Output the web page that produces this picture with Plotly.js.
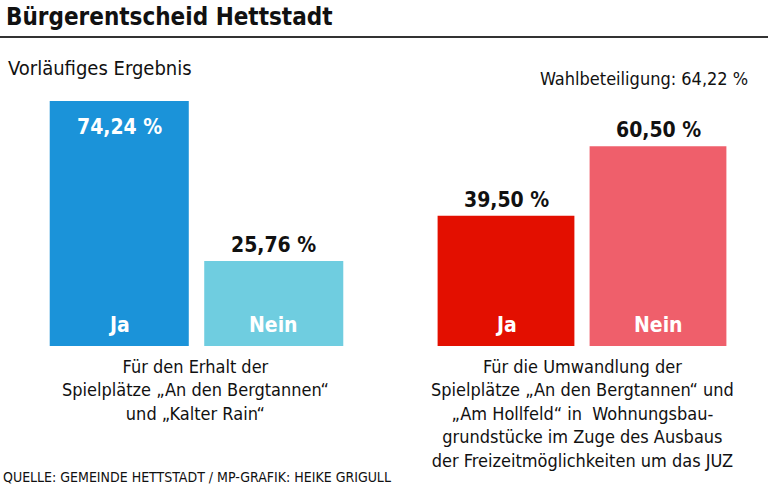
<!DOCTYPE html>
<html>
<head>
<meta charset="utf-8">
<script src="https://cdn.plot.ly/plotly-3.0.1.min.js"></script>
<style>html,body{margin:0;padding:0;background:#fff;}#chart{width:768px;height:486px;}</style>
</head>
<body>
<div id="chart"></div>
<script>
const categories = ["Ja", "Nein"];
const valuesErhalt = [74.24, 25.76];
const valuesUmwandlung = [39.50, 60.50];
const colorsErhalt = ["#1b93d9", "#6fcde0"];
const colorsUmwandlung = ["#e30f00", "#ef5f6b"];
const captionErhalt = "Für den Erhalt der<br>Spielplätze „An den Bergtannen“<br>und „Kalter Rain“";
const captionUmwandlung = "Für die Umwandlung der<br>Spielplätze „An den Bergtannen“ und<br>„Am Hollfeld“ in  Wohnungsbau-<br>grundstücke im Zuge des Ausbaus<br>der Freizeitmöglichkeiten um das JUZ";
const titleText = "Bürgerentscheid Hettstadt";
const subtitleText = "Vorläufiges Ergebnis";
const turnoutText = "Wahlbeteiligung: 64,22 %";
const sourceText = "QUELLE: GEMEINDE HETTSTADT / MP-GRAFIK: HEIKE GRIGULL";

const FONT = "'DejaVu Sans Condensed', 'Liberation Sans Narrow', sans-serif";
const fmt = v => v.toFixed(2).replace('.', ',') + ' %';

const traces = [
  {type:'bar', x:categories, y:valuesErhalt, xaxis:'x', yaxis:'y',
   marker:{color:colorsErhalt}, hoverinfo:'none'},
  {type:'bar', x:categories, y:valuesUmwandlung, xaxis:'x2', yaxis:'y',
   marker:{color:colorsUmwandlung}, hoverinfo:'none'}
];

const annotations = [];
function addGroup(vals, xref) {
  vals.forEach((v, i) => {
    const inside = v > 70;
    annotations.push({xref:xref, yref:'y', x:categories[i], y:v,
      text:'<b>'+fmt(v)+'</b>', showarrow:false,
      yanchor: inside ? 'top' : 'bottom', yshift: inside ? -12 : 2,
      font:{family:FONT, size:21, color: inside ? '#ffffff' : '#111111'}});
    annotations.push({xref:xref, yref:'y', x:categories[i], y:0,
      text:'<b>'+categories[i]+'</b>', showarrow:false,
      yanchor:'bottom', yshift:7,
      font:{family:FONT, size:21, color:'#ffffff'}});
  });
}
addGroup(valuesErhalt, 'x');
addGroup(valuesUmwandlung, 'x2');

annotations.push(
  {xref:'paper', yref:'paper', x:0.2547, y:-0.03, yanchor:'top', xanchor:'center',
   text:captionErhalt, showarrow:false, align:'center',
   font:{family:FONT, size:18, color:'#111'}},
  {xref:'paper', yref:'paper', x:0.758, y:-0.03, yanchor:'top', xanchor:'center',
   text:captionUmwandlung, showarrow:false, align:'center',
   font:{family:FONT, size:18, color:'#111'}}
);

const layout = {
  width:768, height:486,
  margin:{l:0, r:0, t:82, b:140},
  paper_bgcolor:'#ffffff', plot_bgcolor:'#ffffff',
  showlegend:false,
  bargap:0.1,
  xaxis:{domain:[42/768, 351/768], visible:false, type:'category'},
  xaxis2:{domain:[430/768, 734/768], visible:false, type:'category', anchor:'y'},
  yaxis:{range:[0,80], visible:false},
  annotations:annotations,
  shapes:[
    {type:'line', xref:'paper', yref:'paper', x0:-0.01, x1:1.01, y0:(486-37-140)/264, y1:(486-37-140)/264,
     line:{color:'#333', width:2}}
  ]
};

function py(pxY){ return (486-140-pxY)/264; }
layout.annotations.push(
  {xref:'paper', yref:'paper', x:4/768, y:py(17), xanchor:'left', yanchor:'middle',
   text:'<b>'+titleText+'</b>', showarrow:false, font:{family:FONT, size:24, color:'#111'}},
  {xref:'paper', yref:'paper', x:6/768, y:py(68), xanchor:'left', yanchor:'middle',
   text:subtitleText, showarrow:false, font:{family:FONT, size:20, color:'#111'}},
  {xref:'paper', yref:'paper', x:750/768, y:py(79), xanchor:'right', yanchor:'middle',
   text:turnoutText, showarrow:false, font:{family:FONT, size:18, color:'#111'}},
  {xref:'paper', yref:'paper', x:1/768, y:py(477), xanchor:'left', yanchor:'middle',
   text:sourceText, showarrow:false, font:{family:FONT, size:14, color:'#111'}}
);

Plotly.newPlot('chart', traces, layout, {staticPlot:true, displayModeBar:false});
</script>
</body>
</html>
